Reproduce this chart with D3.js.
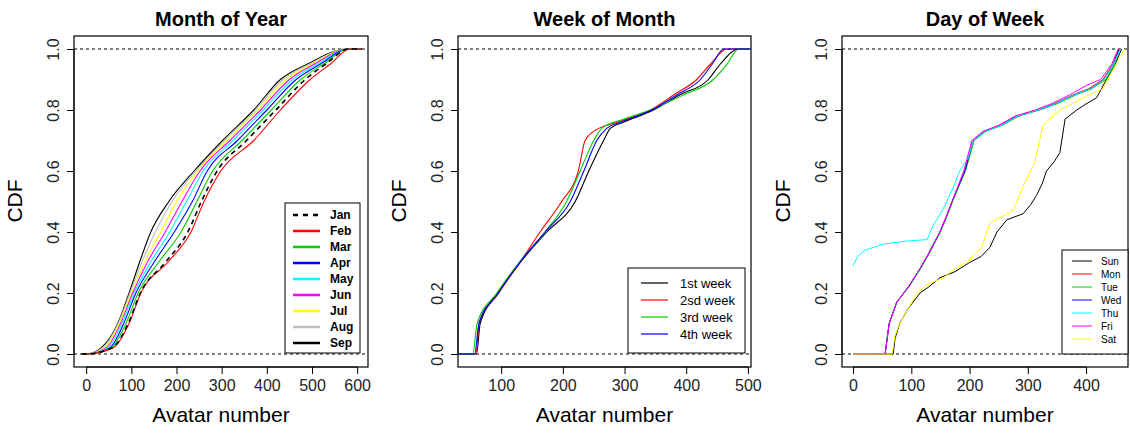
<!DOCTYPE html>
<html>
<head>
<meta charset="utf-8">
<script src="https://cdn.jsdelivr.net/npm/d3@7"></script>
<style>
body { margin: 0; background: #fff; }
text { font-family: "Liberation Sans", Arial, sans-serif; }
</style>
</head>
<body>
<svg id="chart" width="1130" height="433"></svg>
<script>
// CDF levels and avatar numbers
var monthLevels = [0, 0.02, 0.1, 0.2, 0.3, 0.4, 0.5, 0.6, 0.7, 0.8, 0.9, 0.95, 1];
var monthNames = ["Jan", "Feb", "Mar", "Apr", "May", "Jun", "Jul", "Aug", "Sep"];
var monthColors = ["#000", "#ff0000", "#00cc00", "#0000ff", "#00ffff", "#ff00ff", "#ffff00", "#bebebe", "#000"];
var jan = [0, 57, 93, 120, 175, 225, 255, 290, 355, 420, 485, 530, 582];
var feb = [0, 59, 95, 121, 180, 232, 261, 298, 371, 430, 496, 540, 584];
var mar = [0, 55, 88, 115, 160, 210, 245, 280, 345, 410, 475, 525, 580];
var apr = [0, 52, 83, 110, 150, 195, 235, 268, 335, 400, 465, 518, 580];
var may = [0, 48, 79, 106, 142, 185, 222, 259, 325, 392, 457, 512, 579];
var jun = [0, 44, 76, 103, 135, 175, 212, 252, 318, 386, 450, 505, 579];
var jul = [0, 40, 73, 100, 129, 165, 200, 247, 311, 380, 443, 500, 578];
var aug = [0, 36, 71, 97, 123, 153, 190, 243, 306, 375, 436, 494, 578];
var sep = [0, 33, 70, 95, 118, 143, 183, 239, 302, 371, 430, 489, 578];
var monthSeries = [jan, feb, mar, apr, may, jun, jul, aug, sep];

var weekNames = ["1st week", "2sd week", "3rd week", "4th week"];
var weekColors = ["#000", "#ff0000", "#00cc00", "#0000ff"];
var week1 = [[30,0],[60,0],[66,0.1],[96,0.2],[131,0.3],[174,0.4],[220,0.5],[242,0.6],[266,0.7],[277,0.74],[298,0.76],[347,0.8],[390,0.85],[436,0.9],[455,0.95],[485,1],[505,1]];
var week2 = [[30,0],[59,0],[64,0.1],[95,0.2],[130,0.3],[163,0.4],[198,0.5],[225,0.6],[236,0.7],[250,0.73],[288,0.76],[342,0.8],[380,0.85],[417,0.9],[439,0.95],[466,1],[505,1]];
var week3 = [[30,0],[54,0],[61,0.1],[93,0.2],[129,0.3],[171,0.4],[206,0.5],[228,0.6],[250,0.7],[263,0.74],[298,0.77],[342,0.8],[396,0.85],[444,0.9],[466,0.95],[485,1],[505,1]];
var week4 = [[30,0],[57,0],[64,0.1],[95,0.2],[130,0.3],[171,0.4],[212,0.5],[234,0.6],[255,0.7],[271,0.74],[293,0.76],[344,0.8],[385,0.85],[423,0.9],[442,0.95],[461,1],[505,1]];
var weekSeries = [week1, week2, week3, week4];

var dayNames = ["Sun", "Mon", "Tue", "Wed", "Thu", "Fri", "Sat"];
var dayColors = ["#000", "#ff0000", "#00cc00", "#0000ff", "#00ffff", "#ff00ff", "#ffff00"];
var sun = [[0,0],[69,0],[72,0.05],[80,0.1],[95,0.15],[115,0.2],[130,0.22],[149,0.25],[175,0.27],[200,0.3],[220,0.32],[235,0.35],[247,0.4],[264,0.44],[292,0.46],[305,0.49],[315,0.52],[325,0.56],[332,0.6],[345,0.63],[355,0.66],[364,0.77],[384,0.8],[400,0.82],[418,0.84],[435,0.9],[450,0.95],[461,1]];
var mon = [[0,0],[55,0],[62,0.1],[75,0.17],[95,0.22],[115,0.28],[130,0.33],[149,0.4],[160,0.45],[170,0.5],[183,0.56],[192,0.6],[206,0.7],[225,0.73],[252,0.75],[280,0.78],[315,0.8],[345,0.82],[378,0.85],[405,0.87],[429,0.9],[446,0.95],[456,1]];
var tue = [[0,0],[55,0],[62,0.1],[75,0.17],[96,0.22],[116,0.28],[131,0.33],[150,0.4],[161,0.45],[171,0.5],[184,0.56],[193,0.6],[208,0.7],[228,0.73],[256,0.75],[285,0.78],[320,0.8],[350,0.82],[383,0.85],[410,0.87],[434,0.9],[449,0.95],[458,1]];
var wed = [[0,0],[55,0],[62,0.1],[75,0.17],[95,0.22],[115,0.28],[130,0.33],[149,0.4],[160,0.45],[170,0.5],[183,0.56],[192,0.6],[206,0.7],[226,0.73],[254,0.75],[282,0.78],[317,0.8],[347,0.82],[380,0.85],[408,0.87],[431,0.9],[447,0.95],[457,1]];
var thu = [[0,0.29],[8,0.32],[20,0.34],[51,0.36],[90,0.37],[127,0.375],[137,0.42],[150,0.46],[161,0.5],[175,0.56],[183,0.6],[197,0.64],[206,0.7],[226,0.73],[254,0.75],[282,0.78],[317,0.8],[347,0.82],[380,0.85],[408,0.87],[431,0.9],[447,0.95],[459,1]];
var fri = [[0,0],[55,0],[62,0.1],[75,0.17],[95,0.22],[115,0.28],[130,0.33],[149,0.4],[160,0.45],[170,0.5],[182,0.56],[190,0.6],[204,0.7],[223,0.73],[250,0.75],[278,0.78],[313,0.8],[340,0.82],[372,0.85],[400,0.88],[425,0.9],[444,0.95],[455,1]];
var sat = [[0,0],[67,0],[72,0.06],[80,0.1],[95,0.15],[110,0.2],[130,0.23],[155,0.25],[175,0.28],[195,0.3],[210,0.33],[221,0.35],[235,0.43],[255,0.45],[275,0.47],[292,0.55],[305,0.6],[312,0.63],[326,0.75],[355,0.8],[395,0.84],[429,0.87],[446,0.93],[466,1]];
var daySeries = [sun, mon, tue, wed, thu, fri, sat];

var svg = d3.select("#chart");
var yTicks = [0, 0.2, 0.4, 0.6, 0.8, 1.0];

function panel(left, right, xDomain, xTicks, title)
{
    var x = d3.scaleLinear().domain(xDomain).range([left, right]);
    var y = d3.scaleLinear().domain([0, 1]).range([354, 49]);
    var g = svg.append("g");
    g.append("rect").attr("x", left).attr("y", 36).attr("width", right - left).attr("height", 331)
        .attr("fill", "none").attr("stroke", "#000").attr("stroke-width", 1.2);
    [0, 1].forEach(function(v) {
        g.append("line").attr("x1", left).attr("x2", right).attr("y1", y(v)).attr("y2", y(v))
            .attr("stroke", "#000").attr("stroke-dasharray", "3,3");
    });
    var xa = g.append("g").attr("transform", "translate(0,367)")
        .call(d3.axisBottom(x).tickValues(xTicks).tickSize(7).tickFormat(d3.format("d")));
    xa.select(".domain").attr("d", "M" + x(xTicks[0]) + ",0H" + x(xTicks[xTicks.length - 1]));
    xa.selectAll("text").attr("font-size", 16).attr("dy", "0.9em").attr("fill", "#222");
    var ya = g.append("g").attr("transform", "translate(" + left + ",0)")
        .call(d3.axisLeft(y).tickValues(yTicks).tickSize(7).tickFormat(d3.format(".1f")));
    ya.select(".domain").attr("d", "M0," + y(0) + "V" + y(1));
    ya.selectAll("text").attr("font-size", 16).attr("text-anchor", "middle").attr("fill", "#222")
        .attr("x", 0).attr("y", 0).attr("dy", "0.35em")
        .attr("transform", "translate(-21,0) rotate(-90)");
    g.append("text").attr("x", (left + right) / 2).attr("y", 26).attr("text-anchor", "middle")
        .attr("font-size", 20).attr("font-weight", "bold").text(title);
    g.append("text").attr("x", (left + right) / 2).attr("y", 422).attr("text-anchor", "middle")
        .attr("font-size", 21).text("Avatar number");
    g.append("text").attr("transform", "translate(" + (left - 52) + ",201) rotate(-90)")
        .attr("text-anchor", "middle").attr("font-size", 21).text("CDF");
    return {g: g, x: x, y: y};
}

function legend(g, x0, y0, w, h, names, colors, opts)
{
    g.append("rect").attr("x", x0).attr("y", y0).attr("width", w).attr("height", h)
        .attr("fill", "#fff").attr("stroke", "#000");
    names.forEach(function(n, i) {
        var yy = y0 + opts.top + i * opts.step;
        g.append("line").attr("x1", x0 + opts.l1).attr("x2", x0 + opts.l2).attr("y1", yy).attr("y2", yy)
            .attr("stroke", colors[i]).attr("stroke-width", opts.sw)
            .attr("stroke-dasharray", (opts.dashFirst && i === 0) ? "5,5" : null);
        g.append("text").attr("x", x0 + opts.tx).attr("y", yy).attr("dy", "0.35em")
            .attr("font-size", opts.fs).attr("font-weight", opts.bold ? "bold" : "normal").text(n);
    });
}

// Month of Year
var p1 = panel(74, 368, [-27, 624], [0, 100, 200, 300, 400, 500, 600], "Month of Year");
var line1 = d3.line().x(function(d) { return p1.x(d[0]); }).y(function(d) { return p1.y(d[1]); }).curve(d3.curveMonotoneX);
var order1 = [8, 7, 6, 5, 4, 3, 2, 1, 0];
order1.forEach(function(i) {
    var pts = monthSeries[i].map(function(v, k) { return [v, monthLevels[k]]; });
    pts.unshift([-10, 0]);
    pts.push([610, 1]);
    p1.g.append("path").attr("d", line1(pts)).attr("fill", "none").attr("stroke", monthColors[i])
        .attr("stroke-width", i === 0 ? 1.6 : 1.1).attr("stroke-dasharray", i === 0 ? "5,4" : null);
});
legend(p1.g, 285, 203, 75, 150, monthNames, monthColors,
    {top: 12, step: 16, l1: 8, l2: 35, tx: 45, fs: 12, bold: true, sw: 2.5, dashFirst: true});

// Week of Month
var p2 = panel(458, 751, [30, 505], [100, 200, 300, 400, 500], "Week of Month");
var line2 = d3.line().x(function(d) { return p2.x(d[0]); }).y(function(d) { return p2.y(d[1]); }).curve(d3.curveMonotoneX);
weekSeries.forEach(function(s, i) {
    p2.g.append("path").attr("d", line2(s)).attr("fill", "none").attr("stroke", weekColors[i]).attr("stroke-width", 1.1);
});
legend(p2.g, 628, 268, 117, 85, weekNames, weekColors,
    {top: 15, step: 17, l1: 13, l2: 40, tx: 52, fs: 13, bold: false, sw: 1.2});

// Day of Week
var p3 = panel(842, 1128, [-19, 472], [0, 100, 200, 300, 400], "Day of Week");
var line3 = d3.line().x(function(d) { return p3.x(d[0]); }).y(function(d) { return p3.y(d[1]); });
daySeries.forEach(function(s, i) {
    p3.g.append("path").attr("d", line3(s)).attr("fill", "none").attr("stroke", dayColors[i]).attr("stroke-width", 1);
});
legend(p3.g, 1062, 250, 66, 104, dayNames, dayColors,
    {top: 11, step: 13, l1: 10, l2: 30, tx: 39, fs: 10, bold: false, sw: 1});
</script>
</body>
</html>
